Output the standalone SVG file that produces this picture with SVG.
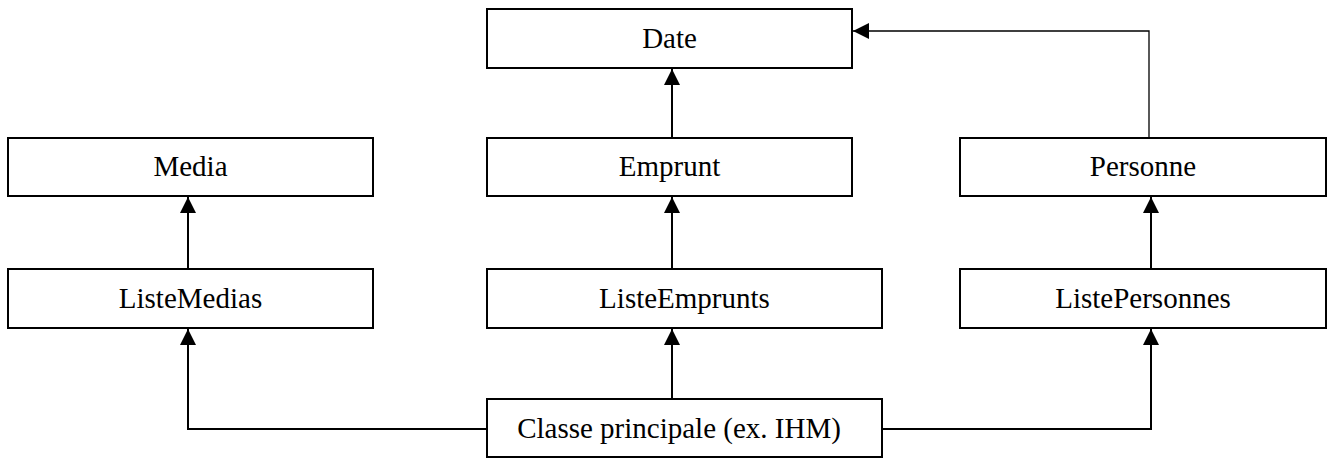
<svg xmlns="http://www.w3.org/2000/svg" width="1333" height="459" viewBox="0 0 1333 459">
<style>
.box{fill:#fff;stroke:#000;stroke-width:2}
.lbl{font-family:"Liberation Serif","Times New Roman",serif;font-size:29px;fill:#000;text-anchor:middle}
.c{fill:none;stroke:#000;stroke-width:2}
.thin{stroke-width:1.3}
</style>
<defs>
<marker id="ah" markerUnits="userSpaceOnUse" markerWidth="16" markerHeight="16" viewBox="0 0 16 16" refX="16" refY="8" orient="auto">
<path d="M0,0 L16,8 L0,16 Z" fill="#000"/>
</marker>
</defs>
<g id="connectors">
<path class="c" d="M188,269 V197" marker-end="url(#ah)"/>
<path class="c" d="M672,138 V69" marker-end="url(#ah)"/>
<path class="c" d="M672,269 V197" marker-end="url(#ah)"/>
<path class="c" d="M1151,269 V197" marker-end="url(#ah)"/>
<path class="c thin" d="M1149,138 V31 H853" marker-end="url(#ah)"/>
<path class="c" d="M487,429 H188 V329" marker-end="url(#ah)"/>
<path class="c" d="M672,399 V329" marker-end="url(#ah)"/>
<path class="c" d="M882,429 H1151 V329" marker-end="url(#ah)"/>
</g>
<g id="date"><rect class="box" x="487" y="9" width="365" height="59"/><text class="lbl" x="669.5" y="48">Date</text></g>
<g id="media"><rect class="box" x="8" y="138" width="365" height="58"/><text class="lbl" x="190.5" y="176">Media</text></g>
<g id="emprunt"><rect class="box" x="487" y="138" width="365" height="58"/><text class="lbl" x="669.5" y="176">Emprunt</text></g>
<g id="personne"><rect class="box" x="960" y="138" width="366" height="58"/><text class="lbl" x="1143" y="176">Personne</text></g>
<g id="listemedias"><rect class="box" x="8" y="269" width="365" height="59"/><text class="lbl" x="190.5" y="308">ListeMedias</text></g>
<g id="listeemprunts"><rect class="box" x="487" y="269" width="395" height="59"/><text class="lbl" x="684.5" y="308">ListeEmprunts</text></g>
<g id="listepersonnes"><rect class="box" x="960" y="269" width="366" height="59"/><text class="lbl" x="1143" y="308">ListePersonnes</text></g>
<g id="classe"><rect class="box" x="487" y="399" width="395" height="58"/><text class="lbl" x="679" y="438">Classe principale (ex. IHM)</text></g>
</svg>
